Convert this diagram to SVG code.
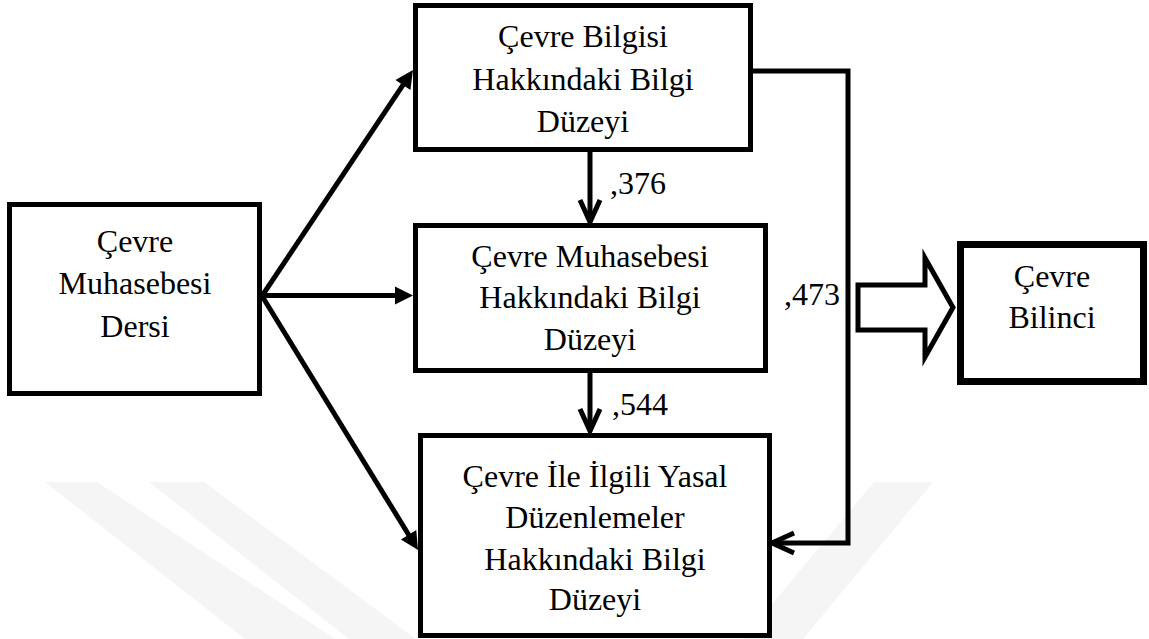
<svg xmlns="http://www.w3.org/2000/svg" width="1149" height="639" viewBox="0 0 1149 639">
  <style>
    .box { fill: #ffffff; stroke: #000000; stroke-width: 5; }
    .thick { stroke-width: 7; }
    text { font-family: 'Liberation Serif', 'Times New Roman', serif; font-size: 32px; fill: #000000; }
    .lbl { text-anchor: middle; }
    .conn { fill: none; stroke: #000000; stroke-width: 5; }
    .wm { fill: #f5f5f5; }
  </style>
  <defs>
    <marker id="tri" markerUnits="userSpaceOnUse" markerWidth="20" markerHeight="20" refX="8" refY="9" orient="auto" overflow="visible">
      <path d="M0,0 L18,9 L0,18 z" fill="#000000"/>
    </marker>
    <marker id="chev" markerUnits="userSpaceOnUse" markerWidth="26" markerHeight="24" refX="22" refY="10" orient="auto" overflow="visible">
      <path d="M0,0 L22,10 L0,20" fill="none" stroke="#000000" stroke-width="5"/>
    </marker>
  </defs>
  <rect width="1149" height="639" fill="#ffffff"/>
  <g id="watermark">
    <polygon class="wm" points="45,482 97,482 335,639 245,639"/>
    <polygon class="wm" points="149,482 204,482 416,639 349,639"/>
    <polygon class="wm" points="874,482 933,482 803,639 743,639"/>
  </g>
  <g id="connectors">
    <line class="conn" x1="262" y1="296" x2="407.4" y2="78.3" marker-end="url(#tri)"/>
    <line class="conn" x1="262" y1="295.5" x2="403" y2="295.5" marker-end="url(#tri)"/>
    <line class="conn" x1="262" y1="296" x2="412.8" y2="541.5" marker-end="url(#tri)"/>
    <line class="conn" x1="590" y1="152" x2="590" y2="222" marker-end="url(#chev)"/>
    <line class="conn" x1="590" y1="373" x2="590" y2="431" marker-end="url(#chev)"/>
    <polyline class="conn" points="753,71 848,71 848,543 772,543" marker-end="url(#chev)"/>
    <polygon class="conn" points="858,285 925,285 925,258 953,307.5 925,357 925,330 858,330" fill="#ffffff"/>
    <text x="610" y="194">,376</text>
    <text x="612" y="415">,544</text>
    <text x="784" y="305">,473</text>
  </g>
  <g id="node-ders">
    <rect class="box" x="9.5" y="204.5" width="250" height="189"/>
    <text class="lbl" x="135" y="252">Çevre</text>
    <text class="lbl" x="135" y="294">Muhasebesi</text>
    <text class="lbl" x="135" y="337">Dersi</text>
  </g>
  <g id="node-bilgi">
    <rect class="box" x="415.5" y="5.5" width="335" height="144"/>
    <text class="lbl" x="583" y="47">Çevre Bilgisi</text>
    <text class="lbl" x="583" y="90">Hakkındaki Bilgi</text>
    <text class="lbl" x="583" y="132">Düzeyi</text>
  </g>
  <g id="node-muhasebe">
    <rect class="box" x="415.5" y="225.5" width="350" height="145"/>
    <text class="lbl" x="590" y="267">Çevre Muhasebesi</text>
    <text class="lbl" x="590" y="308">Hakkındaki Bilgi</text>
    <text class="lbl" x="590" y="350">Düzeyi</text>
  </g>
  <g id="node-yasal">
    <rect class="box" x="420.5" y="435.5" width="349" height="200"/>
    <text class="lbl" x="595" y="487">Çevre İle İlgili Yasal</text>
    <text class="lbl" x="595" y="528">Düzenlemeler</text>
    <text class="lbl" x="595" y="570">Hakkındaki Bilgi</text>
    <text class="lbl" x="595" y="610">Düzeyi</text>
  </g>
  <g id="node-bilinc">
    <rect class="box thick" x="960.5" y="244.5" width="183" height="137"/>
    <text class="lbl" x="1052" y="287">Çevre</text>
    <text class="lbl" x="1052" y="328">Bilinci</text>
  </g>
</svg>
